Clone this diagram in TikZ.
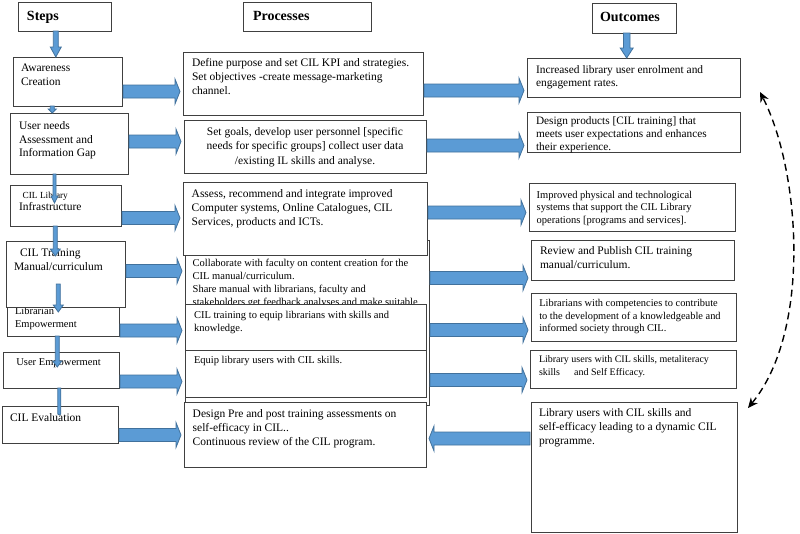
\documentclass[tikz,border=0pt]{standalone}
\usepackage{fontspec}
\setmainfont{Liberation Serif}
\usetikzlibrary{arrows.meta,calc}
\pgfdeclarelayer{bg}
\pgfsetlayers{bg,main}
\definecolor{afill}{HTML}{5B9BD5}
\definecolor{aline}{HTML}{41719C}
\definecolor{bline}{HTML}{404040}
\newcommand\fs[2]{\fontsize{#1}{#2}\selectfont}
\tikzset{
  box/.style={draw=bline, fill=white, line width=0.9pt, inner sep=0pt, outer sep=0pt},
  txt/.style={inner sep=0pt, outer sep=0pt, align=left},
  txtc/.style={inner sep=0pt, outer sep=0pt, align=center},
  arrowsty/.style={draw=aline, fill=afill, line width=0.8pt, line join=miter},
  fatH/.style={arrowsty, to path={let \p1=(\tikztostart), \p2=(\tikztotarget), \n1={sign(\x2-\x1)} in
    ({\x1+(\n1)*1pt},\y1+6.5pt) -- ({\x2-(\n1)*8pt},\y1+6.5pt) -- ({\x2-(\n1)*8pt},\y1+12.5pt)
    -- ({\x2-(\n1)*3pt},\y1) -- ({\x2-(\n1)*8pt},\y1-12.5pt) -- ({\x2-(\n1)*8pt},\y1-6.5pt)
    -- ({\x1+(\n1)*1pt},\y1-6.5pt) -- cycle}},
  fatD/.style n args={3}{arrowsty, to path={let \p1=(\tikztostart), \p2=(\tikztotarget) in
    (\x1-#1pt,\y1) -- (\x1-#1pt,\y2+#3pt) -- (\x1-#2pt,\y2+#3pt) -- (\x1,\y2)
    -- (\x1+#2pt,\y2+#3pt) -- (\x1+#1pt,\y2+#3pt) -- (\x1+#1pt,\y1) -- cycle}},
  dasharr/.style={{Stealth[length=10pt,width=9pt]}-{Stealth[length=10pt,width=9pt]},
    line width=1.4pt, dash pattern=on 7pt off 4.5pt, black}
}
% name, x, y, W, H, padleft, padtop, font, text
\newcommand\bnode[9]{%
  \node[box, minimum width=#4pt, minimum height=#5pt, anchor=north west] (#1) at (#2,#3) {};
  \node[txt, font=#8, anchor=north west] at ([xshift=#6pt,yshift=-#7pt]#1.north west) {\strut #9};}
\begin{document}
\begin{tikzpicture}[x=1pt,y=-1pt]
\useasboundingbox[fill=white] (0,0) rectangle (800,533);

% headers
\bnode{steps}{18}{2}{93}{29}{9}{6.8}{\fs{14}{16}\bfseries}{Steps}
\bnode{procs}{243}{2}{128}{29}{10}{6.8}{\fs{14}{16}\bfseries}{Processes}
\bnode{outs}{592}{3}{84}{30}{8}{6.8}{\fs{14}{16}\bfseries}{Outcomes}

% steps
\bnode{aw}{13}{57}{109}{49}{8}{4.7}{\fs{11.5}{14}}{Awareness\\Creation}
\bnode{un}{10}{113}{118}{61}{9}{6.9}{\fs{11.5}{13.7}}{User needs\\Assessment and\\Information Gap}
\bnode{inf}{10}{185}{111}{41}{9}{4.25}{\fs{11.5}{12.5}}{\hspace*{3.7pt}{\fs{9.3}{11}CIL Library}\\Infrastructure}
\bnode{le}{7}{302}{112}{34}{8}{3.2}{\fs{10.5}{13}}{Librarian\\Empowerment}
\bnode{tr}{6}{241}{119}{66}{8}{5.4}{\fs{11.5}{14}}{\hspace*{6pt}CIL Training\\Manual/curriculum}
\bnode{ue}{3}{352}{116}{36}{13.4}{3.9}{\fs{10.5}{13}}{User Empowerment}
\bnode{ev}{2}{406}{116}{37}{8}{5.2}{\fs{11.5}{14}}{CIL Evaluation}

% processes
\bnode{p1}{183}{52}{240}{63}{9}{5}{\fs{11.5}{14}}{Define purpose and set CIL KPI and strategies.\\Set objectives -create message-marketing\\channel.}
\node[box, minimum width=242pt, minimum height=53pt, anchor=north west] (p2) at (184,120) {};
\node[txtc, font=\fs{11.5}{14.5}, anchor=north] at ([yshift=-5.05pt]p2.north) {\strut Set goals, develop user personnel [specific\\needs for specific groups] collect user data\\/existing IL skills and analyse.};
\bnode{p4}{185}{240}{244}{165}{7.7}{17.5}{\fs{10.5}{13}}{Collaborate with faculty on content creation for the\\CIL manual/curriculum.\\Share manual with librarians, faculty and\\stakeholders get feedback analyses and make suitable}
\bnode{p3}{183}{182}{244}{73}{8.7}{5.7}{\fs{11.5}{14}}{Assess, recommend and integrate improved\\Computer systems, Online Catalogues, CIL\\Services, products and ICTs.}
\bnode{p5}{185}{304}{241}{46}{9}{4.85}{\fs{10.5}{13.5}}{CIL training to equip librarians with skills and\\knowledge.}
\bnode{p6}{185}{350}{241}{47}{9}{4.5}{\fs{10.5}{13.5}}{Equip library users with CIL skills.}
\bnode{p7}{184}{402}{242}{65}{8.7}{5.7}{\fs{11.5}{14}}{Design Pre and post training assessments on\\self-efficacy in CIL..\\Continuous review of the CIL program.}

% outcomes
\bnode{o1}{527}{58}{213}{39}{9}{5.6}{\fs{11.4}{13.5}}{Increased library user enrolment and\\engagement rates.}
\bnode{o2}{527}{112}{213}{40}{9}{3.7}{\fs{11.3}{13}}{Design products [CIL training] that\\meets user expectations and enhances\\their experience.}
\bnode{o3}{529}{183}{206}{48}{7.7}{6.25}{\fs{10.5}{12.5}}{Improved physical and technological\\systems that support the CIL Library\\operations [programs and services].}
\bnode{o4}{531}{240}{203}{40}{9}{4.7}{\fs{11.5}{14}}{Review and Publish CIL training\\manual/curriculum.}
\bnode{o5}{531}{293}{205}{48}{8.3}{4.75}{\fs{10.4}{12.5}}{Librarians with competencies to contribute\\to the development of a knowledgeable and\\informed society through CIL.}
\bnode{o6}{530}{350}{206}{38}{9}{3.2}{\fs{10}{13}}{Library users with CIL skills, metaliteracy\\skills\hspace{14pt}and Self Efficacy.}
\bnode{o7}{531}{402}{206}{130}{8}{4.7}{\fs{11.5}{14}}{Library users with CIL skills and\\self-efficacy leading to a dynamic CIL\\programme.}

% hidden arrow p1 -> p2 (only its head shows)
\begin{pgfonlayer}{bg}
\draw[fatD={1.5}{4}{4.5}] (338,0 |- p1.south) to (338,0 |- p2.north);
\end{pgfonlayer}

% vertical arrows in the steps column
\coordinate (c1) at (54.5,203);
\coordinate (c2) at (55.3,256);
\coordinate (c3) at (58.3,284);
\coordinate (c4) at (58.3,312);
\coordinate (c5) at (57.3,367);
\coordinate (c6) at (59.3,415);
\draw[fatD={2.5}{5.5}{10}] (55.8,0 |- steps.south) to (55.8,0 |- aw.north);
\draw[fatD={2}{4}{4}] (52.3,0 |- aw.south) to (52.3,0 |- un.north);
\draw[fatD={1.5}{3.5}{7}] (54.5,0 |- un.south) to (c1);
\draw[fatD={2}{5}{7}] (55.3,0 |- inf.south) to (c2);
\draw[fatD={2}{5}{7}] (c3) to (c4);
\draw[fatD={2}{4.5}{6}] (57.3,0 |- le.south) to (c5);
\draw[fatD={1.5}{1.5}{1}] (59.3,0 |- ue.south) to (c6);
\draw[fatD={3.3}{6.5}{10}] (626.7,0 |- outs.south) to (626.7,0 |- o1.north);

% steps -> processes
\draw[fatH] (aw.east |- 0,91.5) to (p1.west |- 0,91.5);
\draw[fatH] (un.east |- 0,141.5) to (p2.west |- 0,141.5);
\draw[fatH] (inf.east |- 0,218) to (p3.west |- 0,218);
\draw[fatH] (tr.east |- 0,271) to (p4.west |- 0,271);
\draw[fatH] (le.east |- 0,330.5) to (p5.west |- 0,330.5);
\draw[fatH] (ue.east |- 0,381.5) to (p6.west |- 0,381.5);
\draw[fatH] (ev.east |- 0,435) to (p7.west |- 0,435);

% processes -> outcomes
\draw[fatH] (p1.east |- 0,90.5) to (o1.west |- 0,90.5);
\draw[fatH] (p2.east |- 0,145.5) to (o2.west |- 0,145.5);
\draw[fatH] (p3.east |- 0,212.5) to (o3.west |- 0,212.5);
\draw[fatH] (p4.east |- 0,278) to (o4.west |- 0,278);
\draw[fatH] (p4.east |- 0,330) to (o5.west |- 0,330);
\draw[fatH] (p4.east |- 0,380) to (o6.west |- 0,380);
\draw[fatH] (o7.west |- 0,438.5) to (p7.east |- 0,438.5);

% feedback loop
\coordinate (dA) at (748,408);
\coordinate (dB) at (760,92);
\draw[dasharr] (dA) .. controls (812,330) and (800,170) .. (dB);
\end{tikzpicture}
\end{document}
